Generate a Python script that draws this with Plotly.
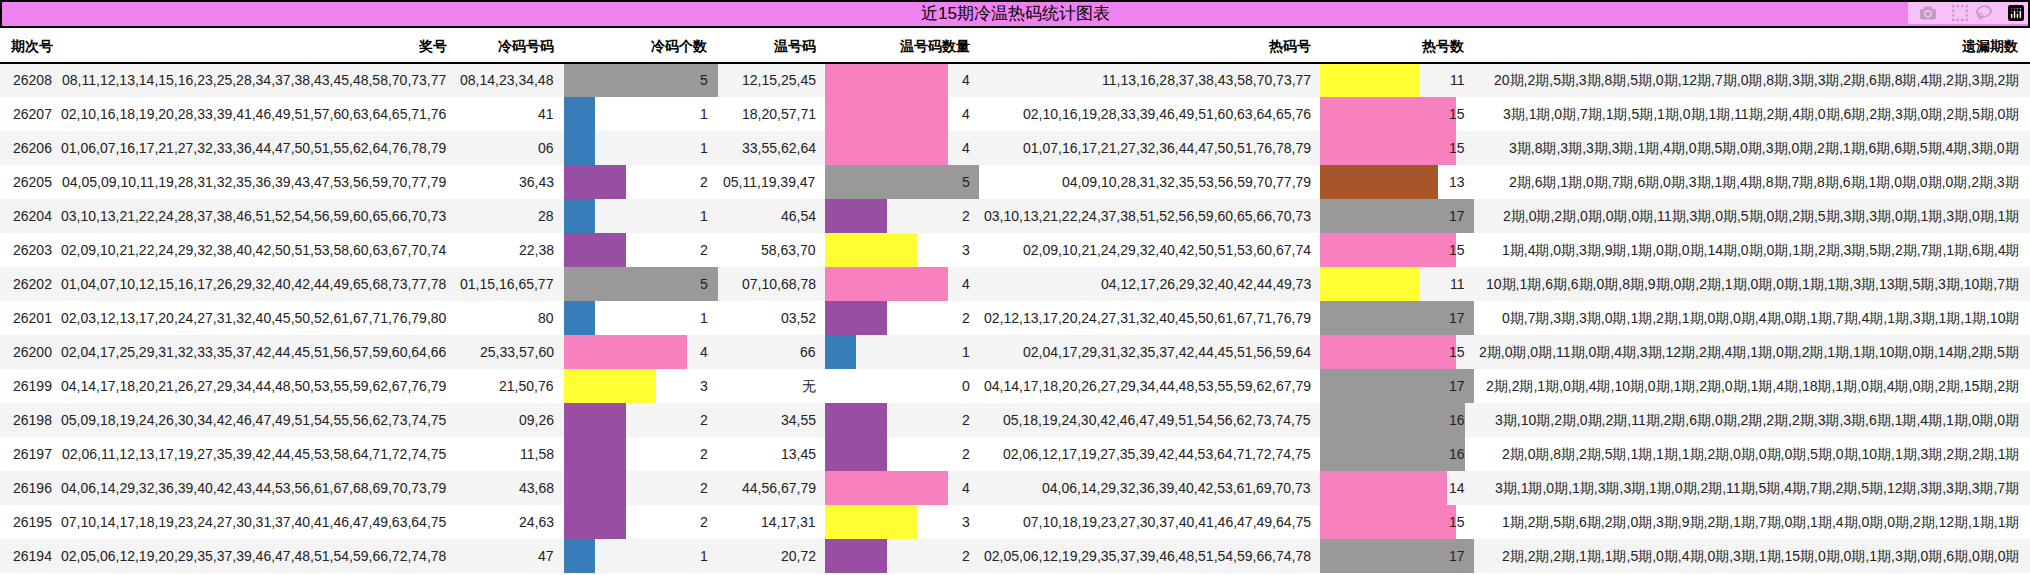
import plotly.graph_objects as go

W, H = 2030, 575

issues = ["26208", "26207", "26206", "26205", "26204", "26203", "26202", "26201",
          "26200", "26199", "26198", "26197", "26196", "26195", "26194"]
draws = [
    "08,11,12,13,14,15,16,23,25,28,34,37,38,43,45,48,58,70,73,77",
    "02,10,16,18,19,20,28,33,39,41,46,49,51,57,60,63,64,65,71,76",
    "01,06,07,16,17,21,27,32,33,36,44,47,50,51,55,62,64,76,78,79",
    "04,05,09,10,11,19,28,31,32,35,36,39,43,47,53,56,59,70,77,79",
    "03,10,13,21,22,24,28,37,38,46,51,52,54,56,59,60,65,66,70,73",
    "02,09,10,21,22,24,29,32,38,40,42,50,51,53,58,60,63,67,70,74",
    "01,04,07,10,12,15,16,17,26,29,32,40,42,44,49,65,68,73,77,78",
    "02,03,12,13,17,20,24,27,31,32,40,45,50,52,61,67,71,76,79,80",
    "02,04,17,25,29,31,32,33,35,37,42,44,45,51,56,57,59,60,64,66",
    "04,14,17,18,20,21,26,27,29,34,44,48,50,53,55,59,62,67,76,79",
    "05,09,18,19,24,26,30,34,42,46,47,49,51,54,55,56,62,73,74,75",
    "02,06,11,12,13,17,19,27,35,39,42,44,45,53,58,64,71,72,74,75",
    "04,06,14,29,32,36,39,40,42,43,44,53,56,61,67,68,69,70,73,79",
    "07,10,14,17,18,19,23,24,27,30,31,37,40,41,46,47,49,63,64,75",
    "02,05,06,12,19,20,29,35,37,39,46,47,48,51,54,59,66,72,74,78",
]
cold_nums = ["08,14,23,34,48", "41", "06", "36,43", "28", "22,38", "01,15,16,65,77", "80",
             "25,33,57,60", "21,50,76", "09,26", "11,58", "43,68", "24,63", "47"]
cold_cnt = [5, 1, 1, 2, 1, 2, 5, 1, 4, 3, 2, 2, 2, 2, 1]
warm_nums = ["12,15,25,45", "18,20,57,71", "33,55,62,64", "05,11,19,39,47", "46,54", "58,63,70",
             "07,10,68,78", "03,52", "66", "无", "34,55", "13,45", "44,56,67,79", "14,17,31", "20,72"]
warm_cnt = [4, 4, 4, 5, 2, 3, 4, 2, 1, 0, 2, 2, 4, 3, 2]
hot_nums = [
    "11,13,16,28,37,38,43,58,70,73,77",
    "02,10,16,19,28,33,39,46,49,51,60,63,64,65,76",
    "01,07,16,17,21,27,32,36,44,47,50,51,76,78,79",
    "04,09,10,28,31,32,35,53,56,59,70,77,79",
    "03,10,13,21,22,24,37,38,51,52,56,59,60,65,66,70,73",
    "02,09,10,21,24,29,32,40,42,50,51,53,60,67,74",
    "04,12,17,26,29,32,40,42,44,49,73",
    "02,12,13,17,20,24,27,31,32,40,45,50,61,67,71,76,79",
    "02,04,17,29,31,32,35,37,42,44,45,51,56,59,64",
    "04,14,17,18,20,26,27,29,34,44,48,53,55,59,62,67,79",
    "05,18,19,24,30,42,46,47,49,51,54,56,62,73,74,75",
    "02,06,12,17,19,27,35,39,42,44,53,64,71,72,74,75",
    "04,06,14,29,32,36,39,40,42,53,61,69,70,73",
    "07,10,18,19,23,27,30,37,40,41,46,47,49,64,75",
    "02,05,06,12,19,29,35,37,39,46,48,51,54,59,66,74,78",
]
hot_cnt = [11, 15, 15, 13, 17, 15, 11, 17, 15, 17, 16, 16, 14, 15, 17]
omission = [
    "20期,2期,5期,3期,8期,5期,0期,12期,7期,0期,8期,3期,3期,2期,6期,8期,4期,2期,3期,2期",
    "3期,1期,0期,7期,1期,5期,1期,0期,1期,11期,2期,4期,0期,6期,2期,3期,0期,2期,5期,0期",
    "3期,8期,3期,3期,3期,1期,4期,0期,5期,0期,3期,0期,2期,1期,6期,6期,5期,4期,3期,0期",
    "2期,6期,1期,0期,7期,6期,0期,3期,1期,4期,8期,7期,8期,6期,1期,0期,0期,0期,2期,3期",
    "2期,0期,2期,0期,0期,0期,11期,3期,0期,5期,0期,2期,5期,3期,3期,0期,1期,3期,0期,1期",
    "1期,4期,0期,3期,9期,1期,0期,0期,14期,0期,0期,1期,2期,3期,5期,2期,7期,1期,6期,4期",
    "10期,1期,6期,6期,0期,8期,9期,0期,2期,1期,0期,0期,1期,1期,3期,13期,5期,3期,10期,7期",
    "0期,7期,3期,3期,0期,1期,2期,1期,0期,0期,4期,0期,1期,7期,4期,1期,3期,1期,1期,10期",
    "2期,0期,0期,11期,0期,4期,3期,12期,2期,4期,1期,0期,2期,1期,1期,10期,0期,14期,2期,5期",
    "2期,2期,1期,0期,4期,10期,0期,1期,2期,0期,1期,4期,18期,1期,0期,4期,0期,2期,15期,2期",
    "3期,10期,2期,0期,2期,11期,2期,6期,0期,2期,2期,2期,3期,3期,6期,1期,4期,1期,0期,0期",
    "2期,0期,8期,2期,5期,1期,1期,1期,2期,0期,0期,0期,5期,0期,10期,1期,3期,2期,2期,1期",
    "3期,1期,0期,1期,3期,3期,1期,0期,2期,11期,5期,4期,7期,2期,5期,12期,3期,3期,3期,7期",
    "1期,2期,5期,6期,2期,0期,3期,9期,2期,1期,7期,0期,1期,4期,0期,0期,2期,12期,1期,1期",
    "2期,2期,2期,1期,1期,5期,0期,4期,0期,3期,1期,15期,0期,0期,1期,3期,0期,6期,0期,0期",
]
headers = ["期次号", "奖号", "冷码号码", "冷码个数", "温号码", "温号码数量", "热码号", "热号数", "遗漏期数"]
title = "近15期冷温热码统计图表"

count_colors = {0: "#ffffff", 1: "#377eb8", 2: "#984ea3", 3: "#ffff33", 4: "#f781bf", 5: "#999999"}
hot_colors = {11: "#ffff33", 13: "#a65628", 14: "#f781bf", 15: "#f781bf", 16: "#999999", 17: "#999999"}

FONT = "Liberation Sans, Arial, sans-serif"
top = 63        # pixel y of header underline
rows = list(range(len(issues)))


def px(x):
    return x / W


def py(y):
    return 1 - y / H


fig = go.Figure()

bar_cols = [
    ("x2", cold_cnt, [count_colors[c] for c in cold_cnt], 564, 5),
    ("x3", warm_cnt, [count_colors[c] for c in warm_cnt], 825, 5),
    ("x4", hot_cnt, [hot_colors[c] for c in hot_cnt], 1320, 17),
]
for xa, vals, cols, _, _ in bar_cols:
    fig.add_trace(go.Bar(x=vals, y=rows, orientation="h", width=1, xaxis=xa, yaxis="y",
                         marker=dict(color=cols, line=dict(width=0)), hoverinfo="skip",
                         showlegend=False))

layout_axes = {}
for xa, vals, cols, x0, vmax in bar_cols:
    layout_axes["xaxis" + xa[1:]] = dict(domain=[px(x0), px(x0 + 154)], range=[0, vmax],
                                         visible=False, anchor="y", fixedrange=True)

shapes = []
for r in rows:
    if r % 2 == 0:
        shapes.append(dict(type="rect", xref="paper", yref="y", x0=0, x1=1, y0=r - 0.5, y1=r + 0.5,
                           fillcolor="#f4f4f4", line_width=0, layer="below"))
shapes.append(dict(type="rect", xref="paper", yref="paper", x0=px(1), x1=px(W - 1),
                   y0=py(27), y1=py(1), fillcolor="#ee82ee", line=dict(color="black", width=2),
                   layer="below"))
shapes.append(dict(type="line", xref="paper", yref="paper", x0=0, x1=1, y0=py(top), y1=py(top),
                   line=dict(color="black", width=2)))

ann = []
ann.append(dict(text=title, xref="paper", yref="paper", x=0.5, y=py(14), showarrow=False,
                font=dict(size=17, color="black"), xanchor="center", yanchor="middle"))

# header right edges (pixels); first column left aligned
head_x = [8, 449, 556, 710, 818, 972, 1313, 1467, 2021]
for h, x in zip(headers, head_x):
    ann.append(dict(text="<b>%s</b>" % h, xref="paper", yref="paper", x=px(x), y=py(46),
                    showarrow=False, xanchor="left" if h == "期次号" else "right",
                    yanchor="middle", font=dict(size=14, color="black")))

cols_data = [
    (issues, 11, "left"), (draws, 449, "right"), (cold_nums, 556, "right"),
    ([str(c) for c in cold_cnt], 710, "right"), (warm_nums, 818, "right"),
    ([str(c) for c in warm_cnt], 972, "right"), (hot_nums, 1313, "right"),
    ([str(c) for c in hot_cnt], 1467, "right"), (omission, 2021, "right"),
]
for vals, x, anchor in cols_data:
    for r, v in zip(rows, vals):
        ann.append(dict(text=v, xref="paper", yref="y", x=px(x), y=r, showarrow=False,
                        xanchor=anchor, yanchor="middle", font=dict(size=14, color="#222")))

fig.update_layout(
    width=W, height=H, margin=dict(l=0, r=0, t=0, b=0),
    paper_bgcolor="white", plot_bgcolor="rgba(0,0,0,0)",
    font=dict(family=FONT),
    xaxis=dict(visible=False, range=[0, 1], domain=[0, 1]),
    yaxis=dict(domain=[py(top + 15 * 34), py(top)], range=[14.5, -0.5], visible=False,
               fixedrange=True),
    shapes=shapes, annotations=ann, bargap=0, showlegend=False,
    **layout_axes,
)

fig.write_html("out.html", post_script="document.body.style.margin='0';document.body.style.overflow='hidden';")
